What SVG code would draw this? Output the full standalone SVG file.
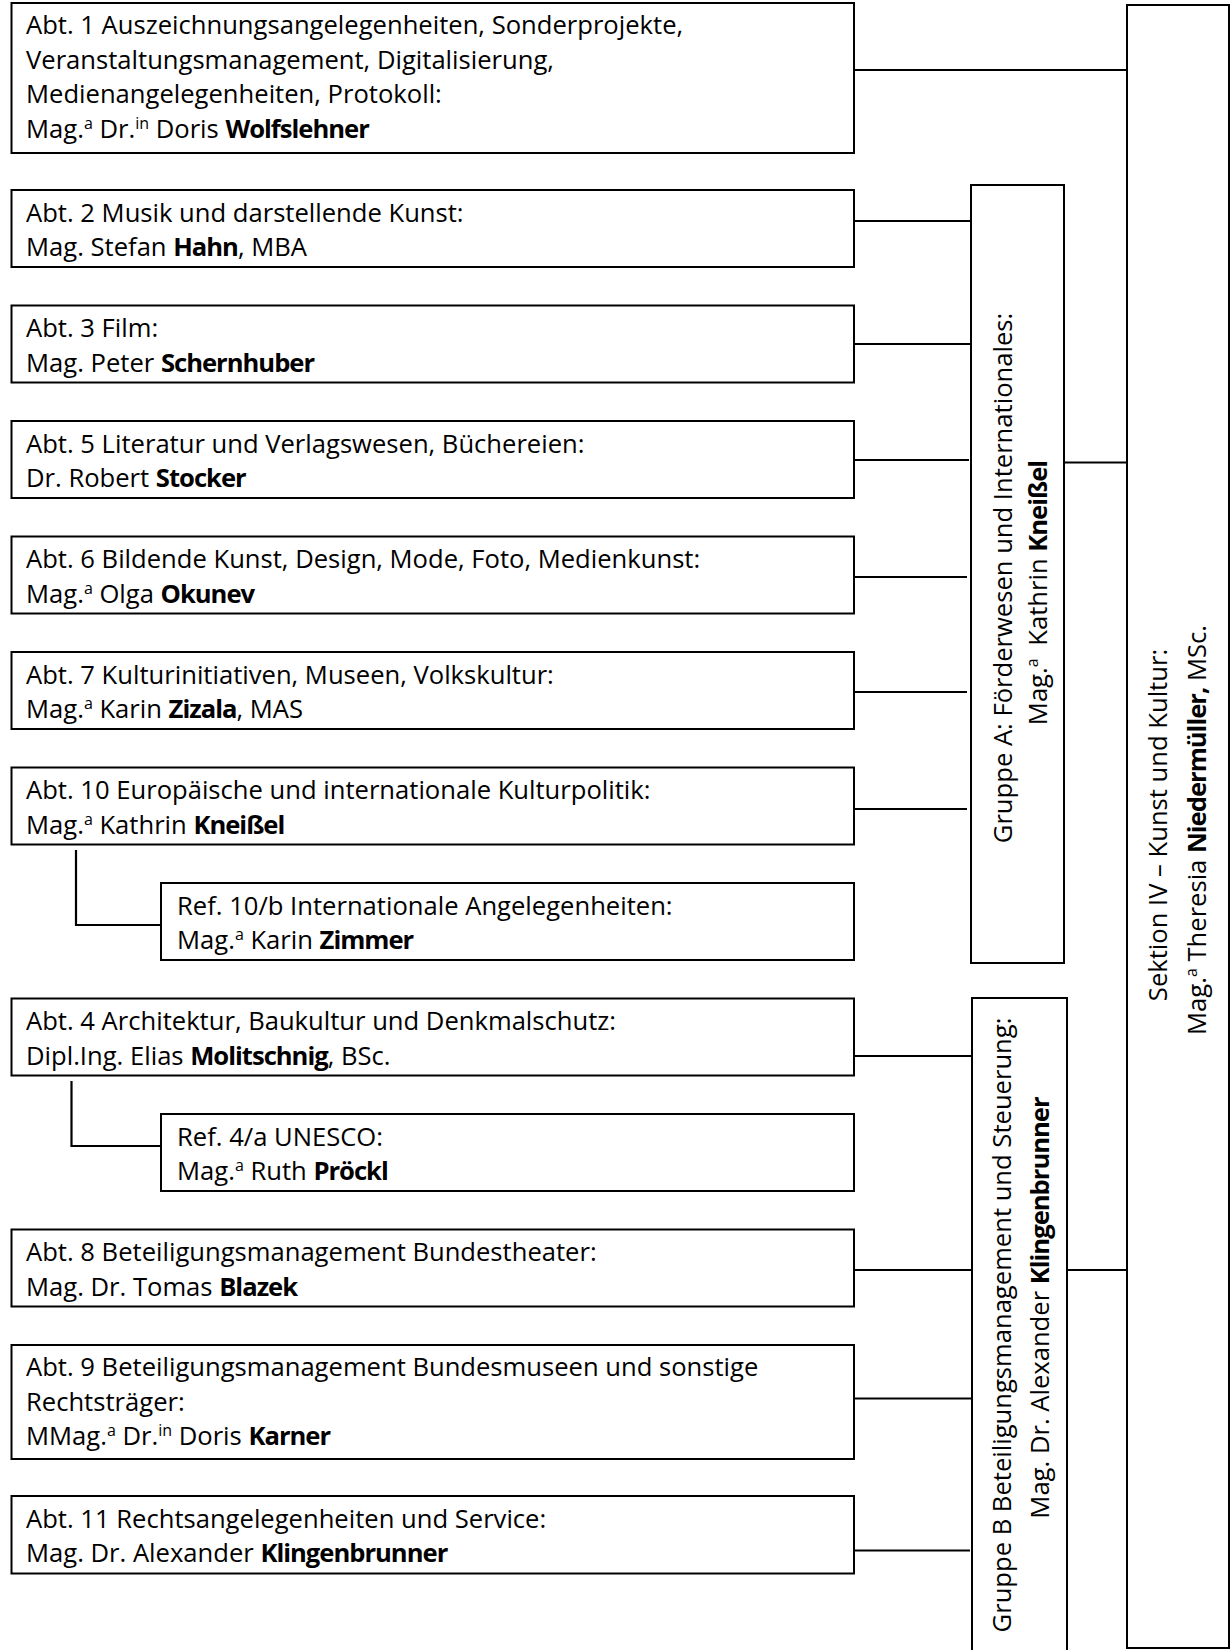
<svg xmlns="http://www.w3.org/2000/svg" width="1231" height="1650" viewBox="0 0 1231 1650">
<style>
  .box { fill: #ffffff; stroke: #000000; stroke-width: 2; }
  .ln { stroke: #000000; stroke-width: 2.2; fill: none; }
  text { font-family: "Open Sans", "Liberation Sans", sans-serif; font-size: 25.6px; fill: #000000; }
  .b { font-weight: bold; letter-spacing: -1px; }
  .sup { font-size: 16px; }
</style>
<rect x="0" y="0" width="1231" height="1650" fill="#ffffff"/>

<g id="connectors">
  <line class="ln" x1="854" y1="70" x2="1126" y2="70"/>
  <line class="ln" x1="854" y1="221" x2="971" y2="221"/>
  <line class="ln" x1="854" y1="344" x2="971" y2="344"/>
  <line class="ln" x1="854" y1="460" x2="969" y2="460"/>
  <line class="ln" x1="854" y1="577" x2="967" y2="577"/>
  <line class="ln" x1="854" y1="692" x2="967" y2="692"/>
  <line class="ln" x1="854" y1="809" x2="967" y2="809"/>
  <line class="ln" x1="1064" y1="462.5" x2="1127" y2="462.5"/>
  <polyline class="ln" points="76,850 76,925 161,925"/>
  <line class="ln" x1="854" y1="1056" x2="971" y2="1056"/>
  <polyline class="ln" points="71.5,1081 71.5,1146 161,1146"/>
  <line class="ln" x1="854" y1="1270" x2="972" y2="1270"/>
  <line class="ln" x1="854" y1="1398.5" x2="971" y2="1398.5"/>
  <line class="ln" x1="854" y1="1550.5" x2="970" y2="1550.5"/>
  <line class="ln" x1="1067" y1="1270" x2="1127" y2="1270"/>
</g>

<g id="sektion">
  <rect class="box" x="1127" y="5" width="102" height="1643"/>
  <text transform="translate(1166.5,825) rotate(-90)" text-anchor="middle">Sektion IV – Kunst und Kultur:</text>
  <text transform="translate(1205.5,830) rotate(-90)" text-anchor="middle">Mag.<tspan class="sup" dy="-9">a</tspan><tspan dy="9"> Theresia </tspan><tspan class="b">Niedermüller,</tspan> MSc.</text>
</g>

<g id="gruppe-a">
  <rect class="box" x="971" y="185" width="93" height="778"/>
  <text transform="translate(1011.5,578) rotate(-90)" text-anchor="middle">Gruppe A: Förderwesen und Internationales:</text>
  <text transform="translate(1046.5,593) rotate(-90)" text-anchor="middle">Mag.<tspan class="sup" dy="-9">a</tspan><tspan dy="9" dx="6"> Kathrin </tspan><tspan class="b">Kneißel</tspan></text>
</g>

<g id="gruppe-b">
  <rect class="box" x="972" y="998" width="95" height="662"/>
  <text transform="translate(1011,1325) rotate(-90)" text-anchor="middle">Gruppe B Beteiligungsmanagement und Steuerung:</text>
  <text transform="translate(1049,1308) rotate(-90)" text-anchor="middle">Mag. Dr. Alexander <tspan class="b">Klingenbrunner</tspan></text>
</g>

<g id="abt1">
  <rect class="box" x="11.5" y="3" width="842.5" height="150"/>
  <text x="26" y="34">Abt. 1 Auszeichnungsangelegenheiten, Sonderprojekte,</text>
  <text x="26" y="68.5">Veranstaltungsmanagement, Digitalisierung,</text>
  <text x="26" y="103">Medienangelegenheiten, Protokoll:</text>
  <text x="26" y="137.5">Mag.<tspan class="sup" dy="-9">a</tspan><tspan dy="9"> Dr.</tspan><tspan class="sup" dy="-9">in</tspan><tspan dy="9"> Doris </tspan><tspan class="b">Wolfslehner</tspan></text>
</g>

<g id="abt2">
  <rect class="box" x="11.5" y="190" width="842.5" height="77"/>
  <text x="26" y="221.7">Abt. 2 Musik und darstellende Kunst:</text>
  <text x="26" y="256">Mag. Stefan <tspan class="b">Hahn</tspan>, MBA</text>
</g>

<g id="abt3">
  <rect class="box" x="11.5" y="305.5" width="842.5" height="77"/>
  <text x="26" y="337.2">Abt. 3 Film:</text>
  <text x="26" y="371.5">Mag. Peter <tspan class="b">Schernhuber</tspan></text>
</g>

<g id="abt5">
  <rect class="box" x="11.5" y="421" width="842.5" height="77"/>
  <text x="26" y="452.7">Abt. 5 Literatur und Verlagswesen, Büchereien:</text>
  <text x="26" y="487">Dr. Robert <tspan class="b">Stocker</tspan></text>
</g>

<g id="abt6">
  <rect class="box" x="11.5" y="536.5" width="842.5" height="77"/>
  <text x="26" y="568.2">Abt. 6 Bildende Kunst, Design, Mode, Foto, Medienkunst:</text>
  <text x="26" y="602.5">Mag.<tspan class="sup" dy="-9">a</tspan><tspan dy="9"> Olga </tspan><tspan class="b">Okunev</tspan></text>
</g>

<g id="abt7">
  <rect class="box" x="11.5" y="652" width="842.5" height="77"/>
  <text x="26" y="683.7">Abt. 7 Kulturinitiativen, Museen, Volkskultur:</text>
  <text x="26" y="718">Mag.<tspan class="sup" dy="-9">a</tspan><tspan dy="9"> Karin </tspan><tspan class="b">Zizala</tspan>, MAS</text>
</g>

<g id="abt10">
  <rect class="box" x="11.5" y="767.5" width="842.5" height="77"/>
  <text x="26" y="799.2">Abt. 10 Europäische und internationale Kulturpolitik:</text>
  <text x="26" y="833.5">Mag.<tspan class="sup" dy="-9">a</tspan><tspan dy="9"> Kathrin </tspan><tspan class="b">Kneißel</tspan></text>
</g>

<g id="ref10b">
  <rect class="box" x="161" y="883" width="693" height="77"/>
  <text x="177" y="914.7">Ref. 10/b Internationale Angelegenheiten:</text>
  <text x="177" y="949">Mag.<tspan class="sup" dy="-9">a</tspan><tspan dy="9"> Karin </tspan><tspan class="b">Zimmer</tspan></text>
</g>

<g id="abt4">
  <rect class="box" x="11.5" y="998.5" width="842.5" height="77"/>
  <text x="26" y="1030.2">Abt. 4 Architektur, Baukultur und Denkmalschutz:</text>
  <text x="26" y="1064.5">Dipl.Ing. Elias <tspan class="b">Molitschnig</tspan>, BSc.</text>
</g>

<g id="ref4a">
  <rect class="box" x="161" y="1114" width="693" height="77"/>
  <text x="177" y="1145.7">Ref. 4/a UNESCO:</text>
  <text x="177" y="1180">Mag.<tspan class="sup" dy="-9">a</tspan><tspan dy="9"> Ruth </tspan><tspan class="b">Pröckl</tspan></text>
</g>

<g id="abt8">
  <rect class="box" x="11.5" y="1229.5" width="842.5" height="77"/>
  <text x="26" y="1261.2">Abt. 8 Beteiligungsmanagement Bundestheater:</text>
  <text x="26" y="1295.5">Mag. Dr. Tomas <tspan class="b">Blazek</tspan></text>
</g>

<g id="abt9">
  <rect class="box" x="11.5" y="1345" width="842.5" height="114"/>
  <text x="26" y="1376.2">Abt. 9 Beteiligungsmanagement Bundesmuseen und sonstige</text>
  <text x="26" y="1410.5">Rechtsträger:</text>
  <text x="26" y="1444.8">MMag.<tspan class="sup" dy="-9">a</tspan><tspan dy="9"> Dr.</tspan><tspan class="sup" dy="-9">in</tspan><tspan dy="9"> Doris </tspan><tspan class="b">Karner</tspan></text>
</g>

<g id="abt11">
  <rect class="box" x="11.5" y="1496" width="842.5" height="77.5"/>
  <text x="26" y="1527.7">Abt. 11 Rechtsangelegenheiten und Service:</text>
  <text x="26" y="1562">Mag. Dr. Alexander <tspan class="b">Klingenbrunner</tspan></text>
</g>
</svg>
